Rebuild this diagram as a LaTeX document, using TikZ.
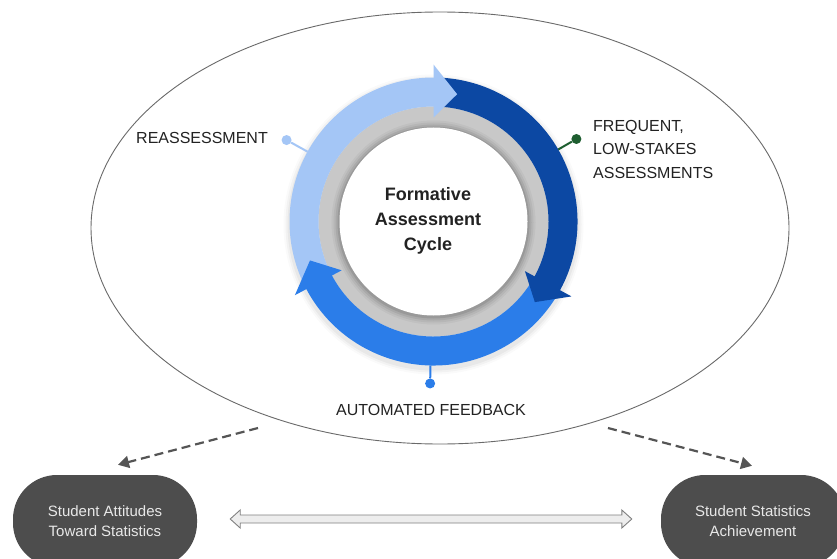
\documentclass[tikz,border=0pt]{standalone}
\usepackage{fontspec}
\setmainfont{Liberation Sans}
\usetikzlibrary{arrows.meta,calc,shapes.geometric}

\definecolor{ellgray}{HTML}{6A6A6A}
\definecolor{ringgray}{HTML}{C8C8C8}
\definecolor{lightblue}{HTML}{A4C6F6}
\definecolor{darkblue}{HTML}{0C48A3}
\definecolor{midblue}{HTML}{2B7DE9}
\definecolor{pingreen}{HTML}{1E5E30}
\definecolor{txt}{HTML}{222222}
\definecolor{boxgray}{HTML}{4D4D4D}
\definecolor{boxtext}{HTML}{E8E8E8}
\definecolor{dashgray}{HTML}{555555}

\tikzset{
  label16/.style={font=\fontsize{16}{23.5}\selectfont, text=txt, inner sep=0pt},
  pindot/.style={circle, inner sep=0pt, minimum size=10pt},
  pinline/.style={line width=2pt},
  outcome/.style={rounded corners=44pt, minimum width=184pt, minimum height=92pt,
    fill=boxgray, text=boxtext, align=center, inner sep=0pt,
    font=\fontsize{15}{20}\selectfont},
  dasharrow/.style={draw=dashgray, line width=2.2pt, dash pattern=on 9pt off 5pt,
    -{Triangle[length=11pt,width=12pt]}},
  hollowarrow/.style={fill=black!7, draw=black!50, line width=0.9pt, line join=miter}
}

\begin{document}
\begin{tikzpicture}[x=1pt,y=1pt]
\clip (0,0) rectangle (837,558);
\fill[white] (0,0) rectangle (837,558);

% enclosing ellipse
\node[draw=ellgray, line width=0.9pt, ellipse, inner sep=0pt,
      minimum width=698pt, minimum height=432pt] (frame) at (440,330) {};

% the cycle ring
\begin{scope}[shift={(433.5,336.5)}]
  \def\rin{115}\def\rout{144}\def\hin{104}\def\hout{157}\def\rmid{129.5}
  % soft shadow under the ring
  \foreach \r/\o in {150/0.02, 148/0.03, 146/0.04}
    \fill[black, opacity=\o] (0,-3) circle[radius=\r];
  \fill[ringgray] (0,0) circle[radius=\rin];
  % shading of the grey ring towards the centre disc
  \foreach \r/\o in {102/0.04, 100/0.05, 98/0.07, 96/0.09}
    \fill[black, opacity=\o] (0,-1) circle[radius=\r];
  \fill[white] (0,0) circle[radius=94];
  % bands
  \fill[lightblue] (204:\rin) arc[start angle=204, end angle=89.5, radius=\rin]
     -- (89.5:\rout) arc[start angle=89.5, end angle=204, radius=\rout] -- cycle;
  \fill[darkblue] (87:\rin) arc[start angle=87, end angle=-29, radius=\rin]
     -- (-29:\rout) arc[start angle=-29, end angle=87, radius=\rout] -- cycle;
  \fill[midblue] (-31.5:\rin) arc[start angle=-31.5, end angle=-152.5, radius=\rin]
     -- (-152.5:\rout) arc[start angle=-152.5, end angle=-31.5, radius=\rout] -- cycle;
  % heads
  \fill[lightblue] (90:\hin) -- (79.5:\rmid) -- (90:\hout) -- cycle;
  \fill[darkblue] (-28.5:\hin) -- (-38.5:\rmid) -- (-28.5:\hout) -- cycle;
  \fill[midblue] (-152:\hin) -- (-162.5:\rmid) -- (-152:\hout) -- cycle;
  % pins
  \node[pindot, fill=lightblue] (pinre) at (151:168) {};
  \draw[pinline, lightblue] (151:144) -- (pinre);
  \node[pindot, fill=pingreen] (pinfr) at (30:165) {};
  \draw[pinline, pingreen] (30:144) -- (pinfr);
  \node[pindot, fill=midblue] (pinau) at (268.8:162) {};
  \draw[pinline, midblue] (268.8:144) -- (pinau);
\end{scope}

% centre title
\node[font=\bfseries\fontsize{18}{25}\selectfont, text=txt, align=center] (title)
  at (428,337) {Formative\\Assessment\\Cycle};

% stage labels
\node[label16, anchor=east] (reas) at (268,420) {REASSESSMENT};
\node[label16, anchor=west, align=left] (freq) at (593,409)
  {FREQUENT,\\LOW-STAKES\\ASSESSMENTS};
\node[label16] (auto) at (431,148) {AUTOMATED FEEDBACK};

% outcomes
\node[outcome] (att) at (105,37) {Student Attitudes\\Toward Statistics};
\node[outcome] (ach) at (753,37) {Student Statistics\\Achievement};

% dashed links from the cycle to the outcomes
\coordinate (dl) at (258,130);
\coordinate (dr) at (608,130);
\draw[dasharrow] (dl) -- ($(att.north)+(13,10)$);
\draw[dasharrow] (dr) -- ($(ach.north)+(-1,9)$);

% two-way link between outcomes
\coordinate (la) at ($(att.east)+(33,2)$);
\coordinate (ra) at ($(ach.west)+(-29,2)$);
\draw[hollowarrow] (la) -- ($(la)+(10,9)$) -- ($(la)+(10,4)$) -- ($(ra)+(-10,4)$)
  -- ($(ra)+(-10,9)$) -- (ra) -- ($(ra)+(-10,-9)$) -- ($(ra)+(-10,-4)$)
  -- ($(la)+(10,-4)$) -- ($(la)+(10,-9)$) -- cycle;
\end{tikzpicture}
\end{document}
